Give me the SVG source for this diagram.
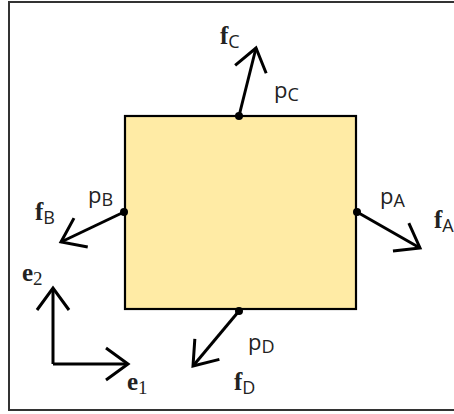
<svg xmlns="http://www.w3.org/2000/svg" width="454" height="414" viewBox="0 0 454 414">
<style>
.vec{stroke:#000;stroke-width:3;fill:none;marker-end:url(#chev)}
.dot{fill:#000}
.b{font-family:"Liberation Serif",serif;font-weight:bold;font-size:25px;fill:#222}
.s{font-family:"Open Sans","Liberation Sans",sans-serif;font-size:22px;fill:#222}
.sub{font-family:"Open Sans","Liberation Sans",sans-serif;font-size:18px}
.ns{font-family:"Liberation Serif",serif;font-weight:normal;font-size:19px}
</style>
<defs>
<marker id="chev" markerUnits="userSpaceOnUse" markerWidth="60" markerHeight="60" refX="0" refY="0" viewBox="-30 -30 60 60" orient="auto" overflow="visible">
<path d="M-22,-16 L0,0 L-22,16" fill="none" stroke="#000" stroke-width="3"/>
</marker>
</defs>
<rect x="9" y="2" width="470" height="408" fill="#fff" stroke="#333" stroke-width="2"/>
<g id="body">
<rect x="125" y="116" width="231" height="193" fill="#FFEBA5" stroke="#000" stroke-width="2.2"/>
</g>
<g id="connectors">
<path class="vec" d="M239,116 L256,48"/>
<path class="vec" d="M124,212 L61,242"/>
<path class="vec" d="M357,212 L420,248"/>
<path class="vec" d="M239,311 L193,366"/>
<path class="vec" d="M53,364 L53,288"/>
<path class="vec" d="M53,364 L128,364"/>
</g>
<g id="pC"><circle class="dot" cx="239" cy="116" r="4"/>
<text class="s" x="274" y="98">p<tspan class="sub" dy="3">C</tspan></text>
<text class="b" x="220" y="44">f<tspan class="sub" dy="4" font-weight="normal">C</tspan></text></g>
<g id="pB"><circle class="dot" cx="124" cy="212" r="4"/>
<text class="s" x="88" y="203">p<tspan class="sub" dy="3">B</tspan></text>
<text class="b" x="35" y="220">f<tspan class="sub" dy="4" font-weight="normal">B</tspan></text></g>
<g id="pA"><circle class="dot" cx="357" cy="212" r="4"/>
<text class="s" x="380" y="204">p<tspan class="sub" dy="3">A</tspan></text>
<text class="b" x="434" y="228">f<tspan class="sub" dy="4" font-weight="normal">A</tspan></text></g>
<g id="pD"><circle class="dot" cx="239" cy="311" r="4"/>
<text class="s" x="248" y="350">p<tspan class="sub" dy="3">D</tspan></text>
<text class="b" x="234" y="390">f<tspan class="sub" dy="4" font-weight="normal">D</tspan></text></g>
<g id="axes">
<text class="b" x="22" y="281">e<tspan class="ns" dy="4">2</tspan></text>
<text class="b" x="127" y="390">e<tspan class="ns" dy="4">1</tspan></text>
</g>
</svg>
